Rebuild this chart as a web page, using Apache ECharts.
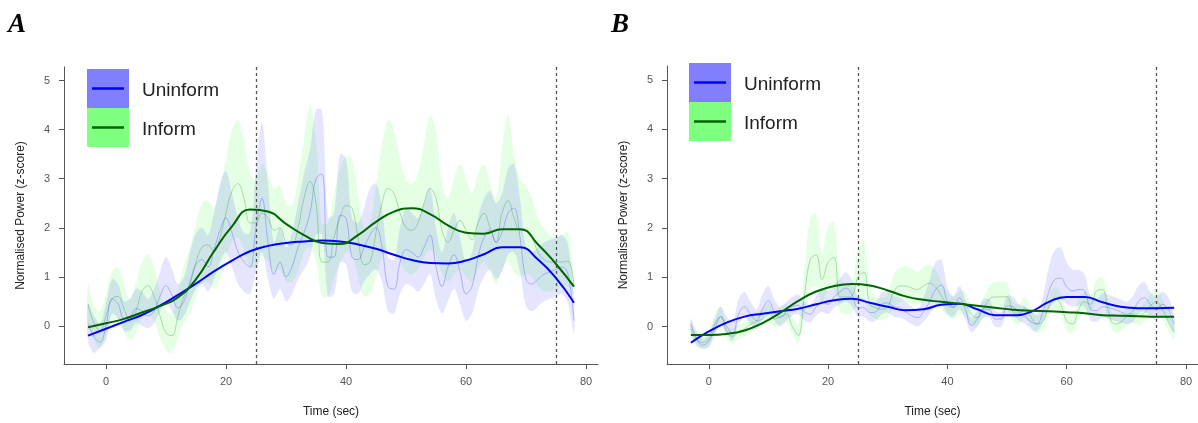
<!DOCTYPE html>
<html>
<head>
<meta charset="utf-8">
<script src="https://cdn.jsdelivr.net/npm/echarts@6/dist/echarts.min.js"></script>
<style>
  html, body { margin: 0; padding: 0; background: #fff; }
  #chart { width: 1198px; height: 423px; }
</style>
</head>
<body>
<div id="chart"></div>
<script>
// Sampling: raw traces every 1 s from -3 s, fitted curves every 3 s.
const START = -3;
const RAW_STEP = 1;
const FIT_STEP = 3;

const xTicks = [0, 20, 40, 60, 80];
const yTicks = [0, 1, 2, 3, 4, 5];
const eventTimes = [25, 75];
const groups = ['Uninform', 'Inform'];

// ---- Panel A ----
const aBlueMean = [0.05,-0.22,-0.34,0.0,0.55,0.45,0.15,0.18,0.35,0.3,
  0.2,0.3,0.6,0.82,0.62,0.36,0.5,0.9,1.25,1.35,
  1.2,1.55,1.95,2.2,1.9,1.5,1.3,1.2,2.0,2.6,
  1.7,1.05,1.3,1.0,1.2,1.6,1.9,2.3,3.0,3.1,
  1.4,1.4,2.25,2.2,1.4,1.35,1.6,1.85,2.0,1.6,
  0.8,0.75,1.3,1.55,1.5,1.4,1.6,1.85,1.2,0.8,
  1.2,1.45,1.1,0.65,0.8,1.4,1.8,1.95,1.7,1.9,
  2.3,2.4,1.8,0.95,0.85,0.95,1.05,1.1,1.15,1.2,
  1.05,0.1];
const aBlueHi = [0.45,0.2,0.05,0.45,0.95,0.85,0.5,0.55,0.75,0.7,
  0.55,0.75,1.1,1.4,1.15,0.85,1.0,1.5,1.9,2.0,
  1.85,2.3,2.9,3.15,2.7,2.2,1.9,1.9,3.2,4.15,
  2.9,1.7,2.0,1.6,1.9,2.5,3.1,3.6,4.4,4.4,
  2.2,2.3,3.5,3.4,2.2,2.1,2.4,2.8,2.9,2.4,
  1.4,1.35,2.0,2.4,2.3,2.2,2.5,2.8,2.0,1.5,
  2.0,2.3,1.8,1.3,1.5,2.2,2.6,2.75,2.5,2.7,
  3.2,3.3,2.6,1.6,1.5,1.6,1.7,1.75,1.8,1.85,
  1.65,0.5];
const aBlueLo = [-0.3,-0.55,-0.45,-0.3,0.25,0.15,-0.1,-0.1,0.05,0.0,
  -0.05,0.05,0.3,0.45,0.3,0.1,0.2,0.5,0.75,0.85,
  0.7,0.95,1.3,1.5,1.2,0.85,0.7,0.65,1.1,1.5,
  0.95,0.55,0.75,0.5,0.65,0.95,1.15,1.4,1.85,1.85,
  0.6,0.65,1.3,1.25,0.7,0.65,0.9,1.05,1.15,0.9,
  0.3,0.25,0.65,0.85,0.8,0.7,0.85,1.05,0.55,0.25,
  0.5,0.75,0.45,0.1,0.25,0.7,1.0,1.15,0.95,1.1,
  1.45,1.5,1.1,0.4,0.3,0.4,0.5,0.55,0.6,0.65,
  0.45,-0.15];
const aGreenMean = [0.45,0.05,-0.1,0.2,0.55,0.6,0.35,0.1,0.3,0.7,
  0.82,0.6,0.2,-0.15,-0.2,0.2,0.6,0.85,1.3,1.6,
  1.65,1.5,1.8,2.3,2.75,2.9,2.6,2.1,2.1,2.3,
  2.2,1.95,2.0,1.7,1.65,2.0,2.6,2.95,2.5,1.3,
  1.3,1.8,2.2,2.45,2.4,1.8,1.25,1.3,1.9,2.5,
  2.8,2.7,2.3,2.0,1.95,2.1,2.5,2.8,2.6,1.95,
  1.7,1.95,2.15,1.95,1.75,2.1,2.3,2.0,1.7,2.3,
  2.55,2.2,1.95,1.95,1.8,1.5,1.35,1.3,1.3,1.3,
  1.32,0.8];
const aGreenHi = [0.85,0.4,0.3,0.65,1.1,1.2,0.85,0.55,0.85,1.3,
  1.45,1.2,0.7,0.3,0.25,0.75,1.25,1.6,2.1,2.5,
  2.55,2.4,2.8,3.4,4.0,4.2,3.8,3.1,3.0,3.3,
  3.1,2.8,2.85,2.5,2.45,3.0,3.8,4.5,3.8,2.1,
  2.1,2.7,3.2,3.45,3.4,2.7,2.0,2.1,2.9,3.7,
  4.2,4.0,3.4,3.0,2.9,3.1,3.7,4.3,4.0,2.9,
  2.6,3.0,3.3,3.0,2.7,3.1,3.3,2.9,2.6,3.6,
  4.3,3.5,3.0,2.85,2.6,2.2,2.0,1.85,1.8,1.85,
  1.9,1.0];
const aGreenLo = [0.1,-0.3,-0.45,-0.2,0.1,0.15,-0.1,-0.3,-0.15,0.2,
  0.3,0.1,-0.25,-0.5,-0.55,-0.25,0.05,0.25,0.6,0.85,
  0.9,0.75,0.95,1.35,1.7,1.8,1.55,1.2,1.2,1.4,
  1.3,1.1,1.15,0.9,0.9,1.1,1.5,1.6,1.3,0.6,
  0.6,0.95,1.25,1.5,1.45,1.0,0.6,0.65,1.0,1.4,
  1.55,1.5,1.3,1.1,1.05,1.15,1.4,1.55,1.4,1.05,
  0.9,1.05,1.15,1.0,0.9,1.15,1.3,1.1,0.85,1.15,
  1.3,1.1,1.0,1.05,1.0,0.8,0.7,0.7,0.75,0.8,
  0.8,0.6];
const aBlueFit = [-0.2,-0.06,0.08,0.22,0.41,0.63,0.86,1.11,1.33,1.52,
  1.63,1.69,1.72,1.74,1.72,1.66,1.57,1.45,1.34,1.28,
  1.27,1.33,1.46,1.6,1.6,1.35,0.97,0.47];
const aGreenFit = [-0.03,0.05,0.14,0.27,0.4,0.58,0.95,1.52,2.03,2.37,
  2.33,2.08,1.85,1.69,1.67,1.85,2.12,2.33,2.4,2.28,
  2.05,1.9,1.88,1.97,1.97,1.66,1.26,0.8];

// ---- Panel B ----
const bBlueMean = [0.05,-0.25,-0.38,-0.3,-0.05,0.2,0.0,-0.15,0.25,0.4,
  0.25,0.12,0.35,0.52,0.3,0.18,0.3,0.4,0.43,0.3,
  0.25,0.4,0.5,0.45,0.6,0.7,0.78,0.65,0.38,0.38,
  0.28,0.3,0.45,0.48,0.4,0.38,0.3,0.22,0.18,0.3,
  0.5,0.75,0.84,0.5,0.4,0.58,0.35,0.02,0.15,0.35,
  0.35,0.15,0.15,0.42,0.4,0.28,0.2,0.1,0.05,0.3,
  0.7,0.95,0.98,0.8,0.72,0.75,0.72,0.35,0.32,0.4,
  0.38,0.35,0.3,0.25,0.3,0.5,0.58,0.45,0.35,0.45,
  0.35,0.05];
const bBlueHi = [0.15,-0.1,-0.25,-0.15,0.15,0.4,0.2,0.1,0.55,0.7,
  0.5,0.35,0.65,0.82,0.55,0.4,0.5,0.6,0.65,0.5,
  0.45,0.62,0.78,0.72,0.85,0.98,1.1,0.95,0.6,0.58,
  0.45,0.5,0.68,0.72,0.62,0.58,0.5,0.4,0.35,0.6,
  0.95,1.3,1.35,0.8,0.62,0.82,0.55,0.18,0.32,0.55,
  0.55,0.32,0.3,0.62,0.6,0.45,0.4,0.3,0.25,0.6,
  1.2,1.55,1.6,1.3,1.15,1.15,1.05,0.6,0.55,0.68,
  0.65,0.6,0.55,0.5,0.6,0.82,0.9,0.7,0.6,0.7,
  0.6,0.2];
const bBlueLo = [-0.1,-0.38,-0.45,-0.42,-0.2,0.05,-0.15,-0.28,0.05,0.2,
  0.05,-0.05,0.15,0.3,0.12,0.0,0.12,0.22,0.25,0.12,
  0.08,0.22,0.3,0.25,0.38,0.45,0.5,0.4,0.2,0.2,
  0.1,0.12,0.25,0.28,0.2,0.18,0.12,0.05,0.0,0.1,
  0.25,0.4,0.45,0.25,0.2,0.35,0.15,-0.12,0.0,0.18,
  0.18,0.0,0.0,0.25,0.22,0.12,0.05,-0.05,-0.1,0.1,
  0.35,0.5,0.55,0.45,0.4,0.42,0.4,0.12,0.1,0.18,
  0.15,0.12,0.08,0.05,0.08,0.25,0.3,0.22,0.12,0.2,
  0.12,-0.1];
const bGreenMean = [-0.05,-0.28,-0.32,-0.25,0.05,0.2,-0.1,-0.2,-0.1,-0.05,
  0.05,0.1,0.15,0.25,0.15,0.2,0.25,0.0,-0.18,0.6,
  1.35,1.45,0.95,1.3,1.4,0.6,0.6,0.62,1.0,1.1,
  0.45,0.38,0.35,0.4,0.7,0.82,0.82,0.78,0.75,0.82,
  0.88,0.8,0.62,0.45,0.38,0.48,0.45,0.25,0.18,0.35,
  0.55,0.6,0.6,0.6,0.3,0.25,0.38,0.2,0.05,0.1,
  0.4,0.58,0.45,0.1,0.05,0.35,0.5,0.45,0.72,0.75,
  0.3,0.05,0.08,0.2,0.25,0.2,0.28,0.42,0.5,0.35,
  0.1,-0.12];
const bGreenHi = [0.1,-0.15,-0.2,-0.1,0.25,0.4,0.05,-0.05,0.05,0.1,
  0.2,0.28,0.35,0.45,0.32,0.4,0.45,0.2,0.05,1.1,
  2.2,2.3,1.5,2.05,2.1,1.0,0.85,0.9,1.55,1.75,
  0.85,0.6,0.58,0.65,1.05,1.2,1.22,1.18,1.1,1.2,
  1.25,1.15,0.92,0.7,0.6,0.72,0.7,0.45,0.38,0.58,
  0.82,0.9,0.9,0.88,0.5,0.45,0.6,0.4,0.22,0.28,
  0.6,0.8,0.68,0.28,0.22,0.55,0.72,0.65,0.95,1.0,
  0.5,0.22,0.25,0.38,0.42,0.38,0.48,0.65,0.78,0.58,
  0.28,0.02];
const bGreenLo = [-0.2,-0.4,-0.45,-0.4,-0.12,0.02,-0.25,-0.35,-0.25,-0.2,
  -0.1,-0.05,0.0,0.08,0.0,0.05,0.08,-0.15,-0.35,0.2,
  0.75,0.8,0.5,0.75,0.75,0.3,0.25,0.28,0.5,0.6,
  0.25,0.15,0.12,0.18,0.4,0.5,0.5,0.45,0.45,0.5,
  0.55,0.5,0.35,0.22,0.15,0.25,0.22,0.05,-0.02,0.15,
  0.3,0.35,0.35,0.35,0.1,0.05,0.18,0.0,-0.12,-0.08,
  0.2,0.35,0.25,-0.08,-0.12,0.15,0.3,0.25,0.5,0.5,
  0.1,-0.12,-0.1,0.02,0.08,0.02,0.1,0.22,0.3,0.15,
  -0.08,-0.25];
const bBlueFit = [-0.33,-0.1,0.08,0.2,0.26,0.31,0.36,0.45,0.53,0.56,
  0.48,0.4,0.33,0.35,0.44,0.46,0.35,0.23,0.23,0.3,
  0.5,0.6,0.6,0.49,0.4,0.37,0.37,0.38];
const bGreenFit = [-0.17,-0.17,-0.15,-0.08,0.07,0.28,0.52,0.71,0.82,0.86,
  0.83,0.73,0.61,0.54,0.5,0.46,0.42,0.38,0.34,0.32,
  0.31,0.29,0.27,0.23,0.22,0.21,0.2,0.2];

// ---- styling ----
const SANS = 'Liberation Sans, Arial, sans-serif';
const AXIS_GREY = '#555';
const COLORS = {
  blue:  { band: 'rgba(40,40,255,0.12)', raw: 'rgba(60,60,255,0.32)', fit: '#0000ff', key: '#8080ff' },
  green: { band: 'rgba(40,255,40,0.12)', raw: 'rgba(30,150,30,0.32)', fit: '#006400', key: '#80ff80' }
};

function points(values, step) {
  return values.map((v, i) => [START + i * step, v]);
}

// Shaded interval: one closed polygon, upper edge left→right, lower edge right→left.
function bandSeries(idx, key, lo, hi) {
  return {
    type: 'custom', xAxisIndex: idx, yAxisIndex: idx, silent: true, z: 1,
    data: [[START, 0]],
    renderItem: function (params, api) {
      const upper = hi.map((v, i) => api.coord([START + i * RAW_STEP, v]));
      const lower = lo.map((v, i) => api.coord([START + i * RAW_STEP, v])).reverse();
      return {
        type: 'polygon',
        shape: { points: upper.concat(lower), smooth: 0.35 },
        style: { fill: COLORS[key].band, stroke: null }
      };
    }
  };
}

function lineSeries(idx, values, step, color, width, z) {
  return {
    type: 'line', xAxisIndex: idx, yAxisIndex: idx, data: points(values, step),
    smooth: step === RAW_STEP ? 0.4 : 0.5, symbol: 'none', silent: true,
    lineStyle: { color: color, width: width }, z: z
  };
}

function eventMarks(idx) {
  return {
    type: 'line', xAxisIndex: idx, yAxisIndex: idx, data: [], silent: true,
    markLine: {
      silent: true, symbol: ['none', 'none'], label: { show: false },
      lineStyle: { color: AXIS_GREY, type: [3, 3], width: 1.3 },
      data: eventTimes.map(t => ({ xAxis: t }))
    }
  };
}

function panel(idx, d) {
  return [
    bandSeries(idx, 'green', d.gLo, d.gHi),
    bandSeries(idx, 'blue', d.bLo, d.bHi),
    lineSeries(idx, d.gMean, RAW_STEP, COLORS.green.raw, 1, 3),
    lineSeries(idx, d.bMean, RAW_STEP, COLORS.blue.raw, 1, 3),
    lineSeries(idx, d.bFit, FIT_STEP, COLORS.blue.fit, 2, 5),
    lineSeries(idx, d.gFit, FIT_STEP, COLORS.green.fit, 2, 6),
    eventMarks(idx)
  ];
}

function xAxis(idx) {
  return {
    gridIndex: idx, type: 'value', min: -7, max: 82,
    name: 'Time (sec)', nameLocation: 'middle', nameGap: 42,
    nameTextStyle: { fontFamily: SANS, fontSize: 12, color: '#222' },
    axisLine: { onZero: false, lineStyle: { color: AXIS_GREY, width: 1 } },
    axisTick: { show: true, customValues: xTicks, length: 5, lineStyle: { color: AXIS_GREY } },
    axisLabel: { customValues: xTicks, fontFamily: SANS, fontSize: 11, color: AXIS_GREY, margin: 12 },
    splitLine: { show: false }
  };
}

function yAxis(idx, lo, hi) {
  return {
    gridIndex: idx, type: 'value', min: lo, max: hi,
    name: 'Normalised Power (z-score)', nameLocation: 'middle', nameGap: 37, nameRotate: 90,
    nameTextStyle: { fontFamily: SANS, fontSize: 12, color: '#222' },
    axisLine: { show: true, onZero: false, lineStyle: { color: AXIS_GREY, width: 1 } },
    axisTick: { show: true, customValues: yTicks, length: 5, lineStyle: { color: AXIS_GREY } },
    axisLabel: { customValues: yTicks, fontFamily: SANS, fontSize: 11, color: AXIS_GREY, margin: 14 },
    splitLine: { show: false }
  };
}

function legendGraphic(x, y) {
  const w = 42, h = 39;
  const items = [];
  ['blue', 'green'].forEach((key, i) => {
    const top = y + i * h;
    items.push({ type: 'rect', shape: { x: x, y: top, width: w, height: h }, style: { fill: COLORS[key].key } });
    items.push({ type: 'line', shape: { x1: x + 5, y1: top + h / 2, x2: x + w - 5, y2: top + h / 2 },
      style: { stroke: COLORS[key].fit, lineWidth: 2.5 } });
    items.push({ type: 'text', x: x + 55, y: top + h / 2 + 2,
      style: { text: groups[i], fontFamily: SANS, fontSize: 19, fill: '#222', verticalAlign: 'middle' } });
  });
  return items;
}

function panelLetter(text, x) {
  return { type: 'text', x: x, y: 12,
    style: { text: text, fontFamily: 'Liberation Serif, Times New Roman, serif', fontWeight: 'bold',
      fontStyle: 'italic', fontSize: 27, fill: '#000' } };
}

const chart = echarts.init(document.getElementById('chart'), null, { renderer: 'canvas' });
chart.setOption({
  animation: false,
  backgroundColor: '#fff',
  grid: [
    { left: 64, top: 67, width: 534, height: 303 },
    { left: 667, top: 66, width: 534, height: 301 }
  ],
  xAxis: [xAxis(0), xAxis(1)],
  yAxis: [yAxis(0, -0.78, 5.28), yAxis(1, -0.76, 5.28)],
  series: [].concat(
    panel(0, { bMean: aBlueMean, bLo: aBlueLo, bHi: aBlueHi, gMean: aGreenMean, gLo: aGreenLo, gHi: aGreenHi,
               bFit: aBlueFit, gFit: aGreenFit }),
    panel(1, { bMean: bBlueMean, bLo: bBlueLo, bHi: bBlueHi, gMean: bGreenMean, gLo: bGreenLo, gHi: bGreenHi,
               bFit: bBlueFit, gFit: bGreenFit })
  ),
  graphic: [].concat(
    [panelLetter('A', 8), panelLetter('B', 611)],
    legendGraphic(87, 69),
    legendGraphic(689, 63)
  )
});
</script>
</body>
</html>
